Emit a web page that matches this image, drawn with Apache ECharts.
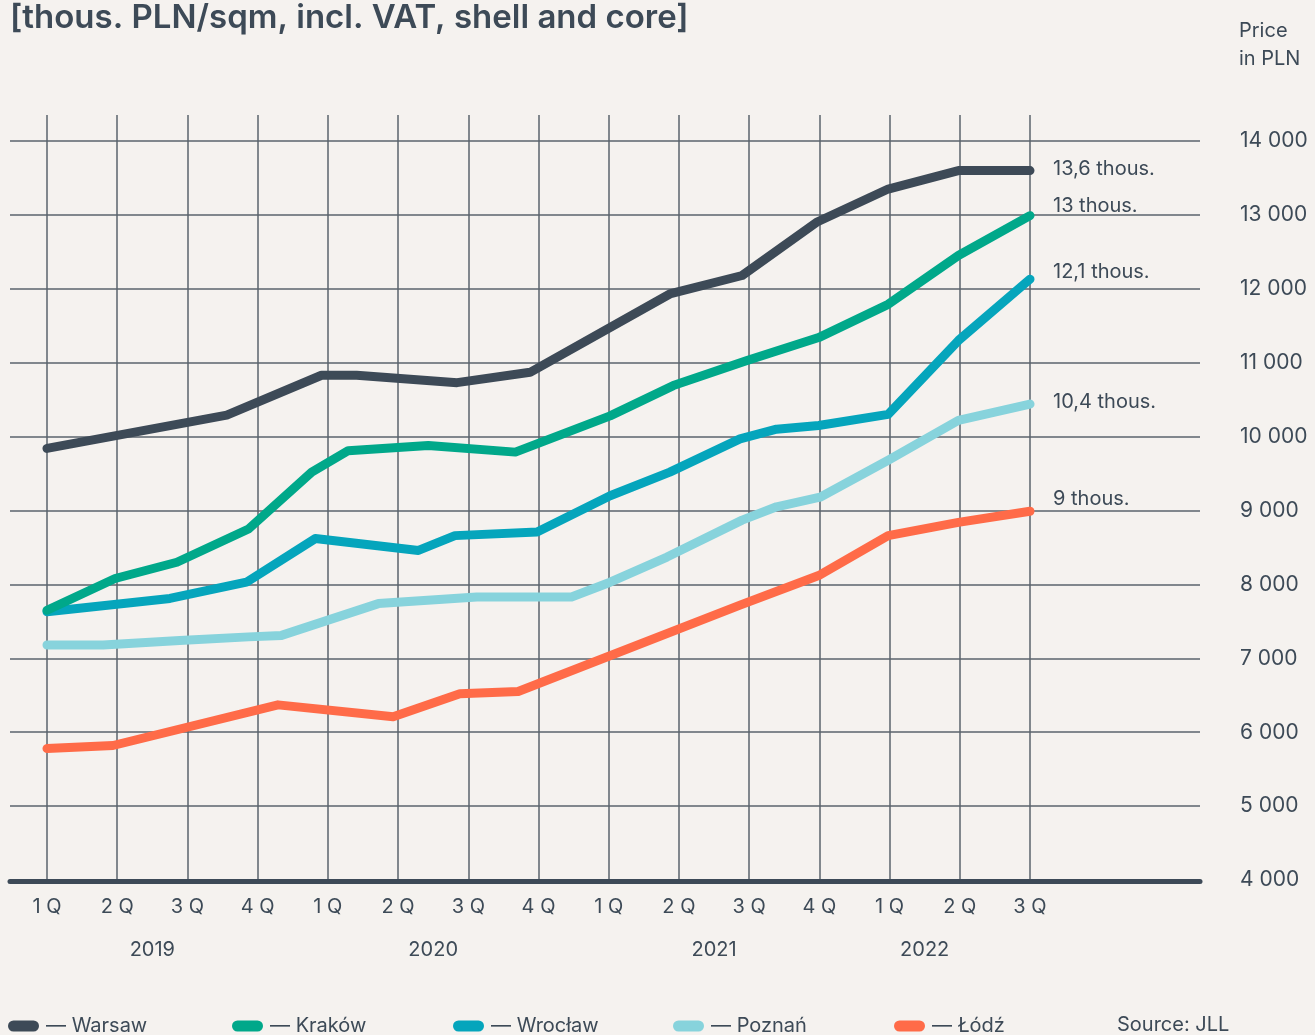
<!DOCTYPE html>
<html>
<head>
<meta charset="utf-8">
<script src="https://cdn.jsdelivr.net/npm/echarts@6/dist/echarts.min.js"></script>
<style>
  html, body { margin: 0; padding: 0; background: #f5f2ef; }
  #chart { width: 1315px; height: 1035px; }
</style>
</head>
<body>
<div id="chart"></div>
<script>
// quarters on the x axis
var quarterLabels = ['1 Q', '2 Q', '3 Q', '4 Q', '1 Q', '2 Q', '3 Q', '4 Q', '1 Q', '2 Q', '3 Q', '4 Q', '1 Q', '2 Q', '3 Q'];
var years = ['2019', '2020', '2021', '2022'];
var yearPos = [1.5, 5.5, 9.5, 12.5];

var cities = ['Warsaw', 'Kraków', 'Wrocław', 'Poznań', 'Łódź'];
var endLabels = ['13,6 thous.', '13 thous.', '12,1 thous.', '10,4 thous.', '9 thous.'];

// x = quarter index (0 = 1Q 2019), y = PLN/sqm
var warsawQ = [0, 2.56, 3.91, 4.41, 5.84, 6.88, 8.87, 9.9, 10.96, 11.98, 12.98, 14];
var warsawV = [9840, 10290, 10830, 10830, 10730, 10870, 11930, 12180, 12900, 13350, 13600, 13600];

var krakowQ = [0, 0.97, 1.85, 2.87, 3.77, 4.29, 5.43, 6.67, 8.02, 8.92, 9.97, 10.99, 11.98, 12.98, 14];
var krakowV = [7650, 8080, 8300, 8750, 9520, 9810, 9880, 9790, 10280, 10690, 11030, 11340, 11790, 12450, 12990];

var wroclawQ = [0, 1.75, 2.84, 3.82, 5.29, 5.81, 6.98, 8.02, 8.87, 9.87, 10.39, 10.99, 11.98, 12.98, 14];
var wroclawV = [7630, 7810, 8030, 8620, 8460, 8660, 8710, 9200, 9520, 9970, 10100, 10150, 10300, 11300, 12130];

var poznanQ = [0, 0.8, 1.89, 2.87, 3.34, 4.72, 6.12, 7.47, 8.02, 8.83, 9.9, 10.39, 11.01, 11.98, 12.98, 14];
var poznanV = [7180, 7180, 7240, 7290, 7310, 7740, 7830, 7830, 8030, 8370, 8870, 9050, 9180, 9680, 10220, 10440];

var lodzQ = [0, 0.94, 3.29, 4.93, 5.88, 6.71, 9.87, 10.99, 11.98, 12.98, 14];
var lodzV = [5780, 5820, 6370, 6210, 6520, 6550, 7720, 8120, 8660, 8840, 8990];

var seriesQ = [warsawQ, krakowQ, wroclawQ, poznanQ, lodzQ];
var seriesV = [warsawV, krakowV, wroclawV, poznanV, lodzV];

var colors = ['#3d4a57', '#00a88a', '#05a5bc', '#87d3dc', '#ff6b48'];
var labelDy = [-2, -10, -7, -2, -12];
var legendLeft = [8, 232, 453, 673, 894];

var textColor = '#3d4a57';
var gridColor = '#5a636d';
var font = 'Inter';

var myChart = echarts.init(document.getElementById('chart'));
var option;

var series = cities.map(function (name, i) {
  return {
    name: name,
    type: 'line',
    xAxisIndex: 2,
    yAxisIndex: 2,
    data: seriesQ[i].map(function (q, k) { return [q, seriesV[i][k]]; }),
    symbol: 'none',
    clip: false,
    z: 10 - i,
    lineStyle: { color: colors[i], width: 9, cap: 'round', join: 'round' },
    itemStyle: { color: colors[i] },
    endLabel: {
      show: true,
      formatter: endLabels[i],
      distance: 0,
      offset: [23, labelDy[i]],
      color: textColor,
      fontSize: 20,
      fontFamily: font
    }
  };
});

var legends = cities.map(function (name, i) {
  return {
    data: [name],
    left: legendLeft[i],
    top: 1016,
    padding: 0,
    itemWidth: 31,
    itemHeight: 11,
    icon: 'path://M5.5,0 L25.5,0 A5.5,5.5 0 0 1 25.5,11 L5.5,11 A5.5,5.5 0 0 1 5.5,0 Z',
    selectedMode: false,
    formatter: '— {name}',
    textStyle: { color: textColor, fontSize: 20, fontFamily: font, padding: [0, 0, 0, 2] }
  };
});

option = {
  backgroundColor: '#f5f2ef',
  animation: false,
  title: [
    {
      text: '[thous. PLN/sqm, incl. VAT, shell and core]',
      left: 5,
      top: -3,
      textStyle: { color: textColor, fontSize: 33, fontWeight: 600, fontFamily: font }
    },
    {
      text: 'Price\nin PLN',
      left: 1234,
      top: 12,
      textStyle: { color: textColor, fontSize: 20, fontWeight: 'normal', lineHeight: 28, fontFamily: font }
    },
    {
      text: 'Source: JLL',
      left: 1112,
      top: 1010,
      textStyle: { color: textColor, fontSize: 20, fontWeight: 'normal', fontFamily: font }
    }
  ],
  legend: legends,
  grid: [
    // horizontal lines + price labels
    { left: 10, right: 115, top: 141, bottom: 155 },
    // vertical lines + quarter labels
    { left: 47, right: 285, top: 115, bottom: 155 },
    // lines
    { left: 47, right: 285, top: 141, bottom: 155 }
  ],
  xAxis: [
    {
      gridIndex: 0, type: 'value', min: 0, max: 1, position: 'bottom',
      axisLine: { show: true, onZero: false, lineStyle: { color: textColor, width: 5 } },
      axisTick: { show: false }, axisLabel: { show: false }, splitLine: { show: false },
      offset: 1
    },
    {
      gridIndex: 1, type: 'value', min: 0, max: quarterLabels.length - 1, interval: 1, position: 'bottom',
      axisLine: { show: false }, axisTick: { show: false },
      splitLine: { show: true, lineStyle: { color: gridColor, width: 1.5 } },
      axisLabel: {
        margin: 17, color: textColor, fontSize: 20, fontFamily: font,
        formatter: function (v) { return quarterLabels[v] || ''; }
      }
    },
    {
      gridIndex: 2, type: 'value', min: 0, max: quarterLabels.length - 1,
      show: false
    },
    {
      gridIndex: 1, type: 'value', min: 0, max: quarterLabels.length - 1, interval: 0.5, position: 'bottom',
      axisLine: { show: false }, axisTick: { show: false }, splitLine: { show: false },
      axisLabel: {
        margin: 60, color: textColor, fontSize: 20, fontFamily: font,
        formatter: function (v) {
          var k = yearPos.indexOf(v);
          return k >= 0 ? years[k] : '';
        }
      }
    }
  ],
  yAxis: [
    {
      gridIndex: 0, type: 'value', min: 4000, max: 14000, interval: 1000, position: 'right',
      axisLine: { show: false }, axisTick: { show: false },
      splitLine: { show: true, lineStyle: { color: gridColor, width: 1.5 } },
      axisLabel: {
        margin: 40, align: 'left', color: textColor, fontSize: 21, fontFamily: font,
        formatter: function (v) { return String(v).replace(/(\d)(?=(\d{3})+$)/g, '$1 '); }
      }
    },
    { gridIndex: 1, type: 'value', min: 0, max: 1, show: false },
    { gridIndex: 2, type: 'value', min: 4000, max: 14000, show: false }
  ],
  series: series
};

option && myChart.setOption(option);
</script>
</body>
</html>
